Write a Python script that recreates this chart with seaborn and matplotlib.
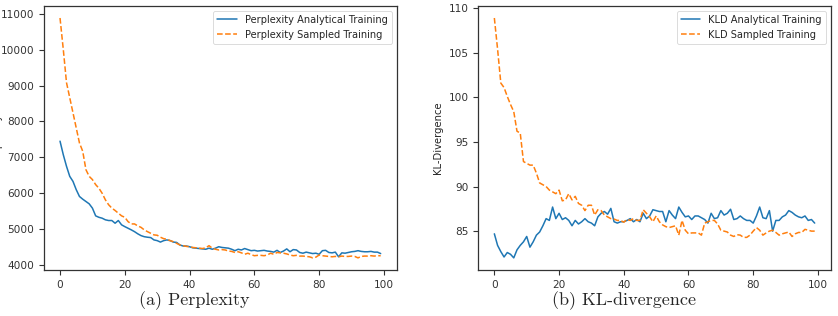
import numpy as np
import pandas as pd
import matplotlib
matplotlib.use("Agg")
import matplotlib.pyplot as plt
import seaborn as sns

epochs = list(range(100))

ppl_analytical = [
    7450, 7075, 6750, 6470, 6330, 6100, 5910, 5835, 5770, 5705,
    5585, 5370, 5330, 5305, 5260, 5240, 5240, 5165, 5240, 5120,
    5070, 5025, 4980, 4930, 4870, 4820, 4790, 4775, 4765, 4700,
    4680, 4640, 4680, 4700, 4680, 4640, 4630, 4560, 4530, 4530,
    4510, 4480, 4470, 4460, 4450, 4440, 4470, 4440, 4470, 4510,
    4490, 4480, 4470, 4440, 4400, 4440, 4420, 4460, 4430, 4400,
    4410, 4390, 4400, 4410, 4390, 4380, 4360, 4410, 4350, 4390,
    4450, 4370, 4430, 4420, 4350, 4330, 4360, 4340, 4320, 4330,
    4300, 4400, 4410, 4350, 4340, 4360, 4230, 4340, 4330, 4350,
    4370, 4380, 4400, 4380, 4370, 4370, 4380, 4360, 4360, 4320,
]
ppl_sampled = [
    10880, 10010, 9080, 8660, 8240, 7820, 7400, 7170, 6656, 6470,
    6380, 6240, 6140, 6000, 5817, 5680, 5585, 5520, 5445, 5370,
    5330, 5210, 5145, 5145, 5090, 5050, 4980, 4930, 4885, 4840,
    4830, 4775, 4735, 4720, 4680, 4650, 4605, 4560, 4540, 4520,
    4510, 4490, 4480, 4470, 4460, 4480, 4540, 4470, 4440, 4420,
    4430, 4420, 4390, 4380, 4350, 4370, 4340, 4300, 4330, 4290,
    4260, 4270, 4270, 4260, 4280, 4330, 4300, 4350, 4340, 4330,
    4310, 4280, 4260, 4270, 4250, 4250, 4240, 4230, 4200, 4220,
    4280, 4260, 4250, 4240, 4230, 4240, 4230, 4250, 4240, 4240,
    4250, 4240, 4200, 4240, 4250, 4250, 4260, 4250, 4260, 4260,
]

kld_analytical = [
    84.7, 83.4, 82.7, 82.1, 82.6, 82.4, 82.0, 82.9, 83.4, 83.8,
    84.4, 83.2, 83.8, 84.55, 84.9, 85.6, 86.4, 86.2, 87.7, 86.4,
    87.0, 86.3, 86.5, 86.2, 85.6, 86.2, 85.8, 86.05, 86.4, 86.05,
    85.9, 85.6, 86.6, 87.0, 87.2, 86.9, 87.55, 86.05, 85.9, 86.05,
    86.05, 86.2, 86.4, 86.05, 86.3, 86.05, 87.0, 86.4, 86.7, 87.4,
    87.3, 87.2, 87.2, 86.05, 87.3, 86.8, 86.4, 87.7, 87.1, 86.6,
    86.7, 86.3, 86.7, 86.7, 86.5, 86.3, 85.9, 87.0, 86.4, 86.5,
    87.3, 86.8, 87.0, 87.45, 86.3, 86.4, 86.7, 86.4, 86.2, 86.2,
    85.9, 86.7, 87.7, 86.5, 86.4, 87.3, 85.0, 86.2, 86.2, 86.6,
    86.8, 87.3, 87.1, 86.8, 86.6, 86.5, 86.7, 86.2, 86.3, 85.9,
]
kld_sampled = [
    108.9, 105.4, 101.6, 101.1, 100.1, 99.2, 98.4, 96.2, 96.0, 92.8,
    92.6, 92.4, 92.4, 91.5, 90.4, 90.2, 90.0, 89.6, 89.4, 89.2,
    89.6, 88.4, 88.5, 89.2, 88.5, 88.9, 88.1, 87.9, 87.3, 87.9,
    87.9, 86.8, 87.4, 87.3, 86.8, 86.6, 86.4, 86.35, 86.2, 86.2,
    86.0, 86.3, 86.2, 86.4, 86.2, 86.2, 87.4, 87.0, 86.6, 86.05,
    86.7, 86.05, 85.7, 85.5, 85.4, 85.5, 85.6, 84.55, 86.2, 85.1,
    84.7, 84.8, 84.8, 84.8, 84.55, 85.9, 86.05, 86.2, 86.2, 85.8,
    85.1, 85.0, 84.9, 84.55, 84.4, 84.6, 84.55, 84.3, 84.3, 84.55,
    85.0, 85.4, 85.1, 84.55, 84.8, 85.0, 85.1, 84.85, 84.55, 84.7,
    84.8, 84.9, 84.4, 84.7, 84.85, 84.85, 85.2, 85.1, 85.0, 85.0,
]

sns.set_style("ticks")
plt.rcParams['font.family'] = ['DejaVu Sans']
plt.rcParams['axes.edgecolor'] = '#333333'
plt.rcParams['xtick.color'] = '#333333'
plt.rcParams['ytick.color'] = '#333333'

blue = '#1f77b4'
orange = '#ff7f0e'

fig = plt.figure(figsize=(8.38, 3.16), dpi=100)
ax1 = fig.add_axes([0.0525, 0.146, 0.4209, 0.835])
ax2 = fig.add_axes([0.5708, 0.146, 0.4205, 0.835])

df_ppl = pd.DataFrame({'epoch': epochs, 'analytical': ppl_analytical, 'sampled': ppl_sampled})
df_kld = pd.DataFrame({'epoch': epochs, 'analytical': kld_analytical, 'sampled': kld_sampled})

sns.lineplot(data=df_ppl, x='epoch', y='analytical', ax=ax1, color=blue, lw=1.1,
             label='Perplexity Analytical Training')
sns.lineplot(data=df_ppl, x='epoch', y='sampled', ax=ax1, color=orange, lw=1.1,
             linestyle='--', label='Perplexity Sampled Training')
sns.lineplot(data=df_kld, x='epoch', y='analytical', ax=ax2, color=blue, lw=1.1,
             label='KLD Analytical Training')
sns.lineplot(data=df_kld, x='epoch', y='sampled', ax=ax2, color=orange, lw=1.1,
             linestyle='--', label='KLD Sampled Training')

for ax in (ax1, ax2):
    ax.set_xlabel('')
    ax.set_xticks([0, 20, 40, 60, 80, 100])
    ax.tick_params(labelsize=7.6, length=3.5, width=0.8)
    for s in ax.spines.values():
        s.set_linewidth(0.9)
    leg = ax.legend(loc='upper right', fontsize=7.1, frameon=True)
    leg.get_frame().set_linewidth(0.6)

ax1.set_yticks(range(4000, 11001, 1000))
ax1.set_ylabel('Perplexity', fontsize=7.2)
ax1.yaxis.set_label_coords(-0.118, 0.5)
ax2.set_yticks([85, 90, 95, 100, 105, 110])
ax2.set_ylabel('KL-Divergence', fontsize=7.2)

fig.text(194 / 838, 1 - 301 / 316, '(a) Perplexity', fontfamily='cmr10',
         fontsize=13, ha='center', va='center')
fig.text(624 / 838, 1 - 301 / 316, '(b) KL-divergence', fontfamily='cmr10',
         fontsize=13, ha='center', va='center')

fig.savefig('out.png', dpi=100)
